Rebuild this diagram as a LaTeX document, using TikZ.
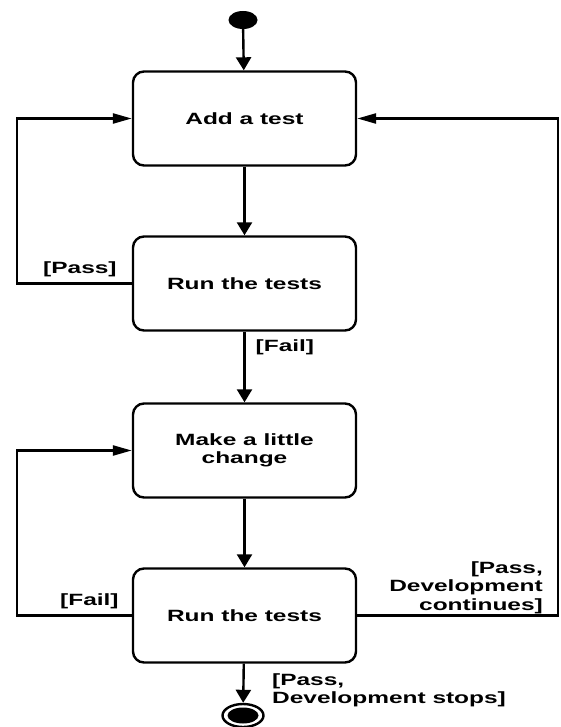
\documentclass[tikz,border=0pt]{standalone}
\usepackage{fontspec}
\setmainfont[FakeStretch=1.5]{Liberation Sans}
\usetikzlibrary{shapes.geometric,arrows.meta,positioning,calc}
\tikzset{
  activity/.style={draw,line width=2.4pt,rounded corners=11pt,
    minimum width=223pt,minimum height=94pt,align=center,
    font=\bfseries\fontsize{16.3}{18.5}\selectfont},
  guard/.style={inner sep=0pt,font=\bfseries\fontsize{16.3}{18.5}\selectfont},
  flow/.style={-{Triangle[length=13pt,width=15pt]},line width=2.4pt},
  back/.style={-{Triangle[length=19pt,width=10pt]},line width=2.4pt},
  initial/.style={ellipse,fill=black,minimum width=29pt,minimum height=18pt,inner sep=0pt},
  final/.style={ellipse,draw,line width=2.4pt,minimum width=41pt,minimum height=23pt,
    inner sep=0pt,path picture={\fill (path picture bounding box.center) ellipse (15.5 and 8);}}
}
\begin{document}
\begin{tikzpicture}[x=1pt,y=-1pt,node distance=68.6pt]
  \useasboundingbox (0,0) rectangle (561,727);
  \node[initial] (start) at (243,20) {};
  \node[activity] (add) at (244.5,118.5) {Add a test};
  \node[activity,below=of add] (run1) {Run the tests};
  \node[activity,below=70.6pt of run1] (make) {Make a little\\change};
  \node[activity,below=of make] (run2) {Run the tests};
  \node[final] (stop) at (243,715.5) {};
  % guards
  \node[guard,anchor=base east] (pass1) at ($(run1.west)+(-15,-10)$) {[Pass]};
  \node[guard,anchor=base west] (fail1) at ($(run1.south)+(11,20)$) {[Fail]};
  \node[guard,anchor=base east] (fail2) at ($(run2.west)+(-13,-10)$) {[Fail]};
  \node[guard,align=right,anchor=north east] (passon) at (543,561)
    {[Pass,\\Development\\continues]};
  \node[guard,align=left,anchor=north west] (passend) at (272,673)
    {[Pass,\\Development stops]};
  % transitions
  \draw[flow] (start) -- (add);
  \draw[flow] (add) -- (run1);
  \draw[flow] (run1) -- (make);
  \draw[flow] (make) -- (run2);
  \draw[flow] (run2) -- (stop);
  \draw[back] (run1.west) -- ++(-115,0) |- (add.west);
  \draw[back] (run2.west) -- ++(-115,0) |- (make.west);
  \draw[back] (run2.east) -- ++(201,0) |- (add.east);
\end{tikzpicture}
\end{document}
